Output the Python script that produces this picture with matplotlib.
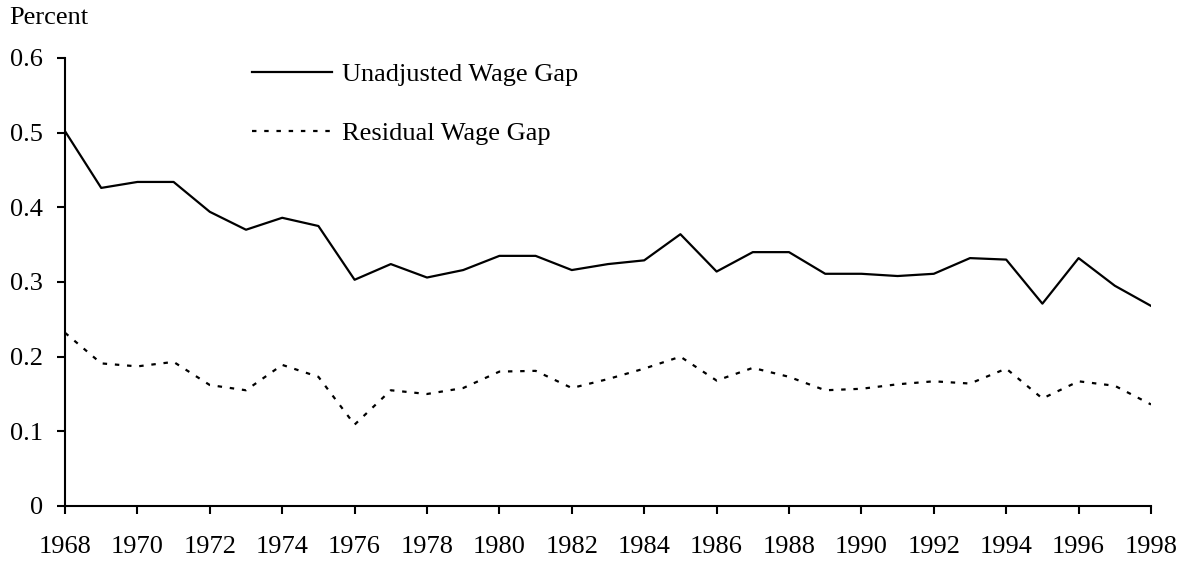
import matplotlib
matplotlib.use("Agg")
import matplotlib.pyplot as plt

# values
years = list(range(1968, 1999))
unadjusted = [0.502, 0.426, 0.434, 0.434, 0.394, 0.370, 0.386, 0.375, 0.303, 0.324,
              0.306, 0.316, 0.335, 0.335, 0.316, 0.324, 0.329, 0.364, 0.314, 0.340,
              0.340, 0.311, 0.311, 0.308, 0.311, 0.332, 0.330, 0.271, 0.332, 0.295,
              0.268]
residual = [0.232, 0.191, 0.187, 0.193, 0.162, 0.155, 0.189, 0.173, 0.109, 0.155,
            0.150, 0.158, 0.180, 0.181, 0.158, 0.170, 0.184, 0.200, 0.168, 0.185,
            0.173, 0.155, 0.157, 0.163, 0.167, 0.164, 0.184, 0.144, 0.167, 0.161,
            0.136]
xticks = list(range(1968, 1999, 2))
yticks = [0, 0.1, 0.2, 0.3, 0.4, 0.5, 0.6]
ytick_labels = ["0", "0.1", "0.2", "0.3", "0.4", "0.5", "0.6"]

plt.rcParams["font.family"] = ["Liberation Serif", "DejaVu Serif"]
plt.rcParams["font.size"] = 19

fig = plt.figure(figsize=(11.87, 5.64), dpi=100)
ax = fig.add_axes([65 / 1187, 1 - 506 / 564, (1151 - 65) / 1187, (506 - 58) / 564])

ax.plot(years, unadjusted, color="black", lw=1.6, label="Unadjusted Wage Gap")
ax.plot(years, residual, color="black", lw=1.6, linestyle=(0, (2, 3.5)),
        label="Residual Wage Gap")

ax.set_xlim(1968, 1998)
ax.set_ylim(0, 0.6)
ax.set_xticks(xticks)
ax.set_yticks(yticks)
ax.set_yticklabels(ytick_labels)

for side in ["top", "right"]:
    ax.spines[side].set_visible(False)
for side in ["left", "bottom"]:
    ax.spines[side].set_linewidth(1.5)
ax.tick_params(axis="y", direction="out", length=6, width=1.5, pad=10)
ax.tick_params(axis="x", direction="out", length=6, width=1.5, pad=15.5)

fig.text(9 / 1187, 1 - 18 / 564, "Percent", ha="left", va="center", fontsize=19)

ax.legend(loc="upper left", bbox_to_anchor=(252 / 1187, 1 - 63 / 564),
          bbox_transform=fig.transFigure, frameon=False, borderpad=0,
          handlelength=3.05, handletextpad=0.35, labelspacing=1.34,
          borderaxespad=0)

fig.savefig("out.png", dpi=100)
plt.close()
